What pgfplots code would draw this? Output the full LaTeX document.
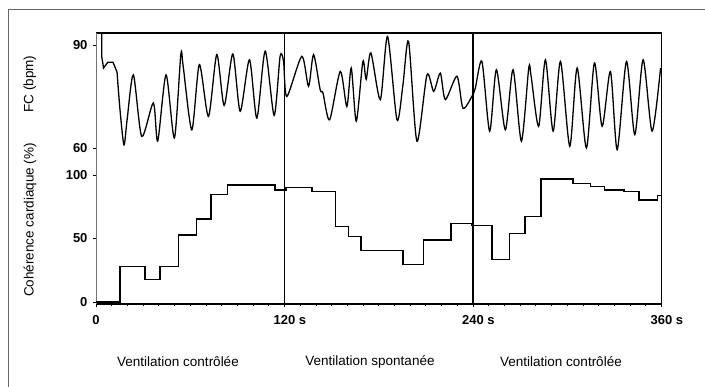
\documentclass[border=0pt]{standalone}
\usepackage{fontspec}
\setmainfont{Liberation Sans}
\usepackage{pgfplots}
\pgfplotsset{compat=1.18}
\begin{document}
\begin{tikzpicture}[x=1pt,y=1pt]
\path[use as bounding box] (0,0) rectangle (705,387);
\draw[line width=1pt, black!60] (8,0) -- (8,377.5) -- (705,377.5);

% ---------- Cohérence cardiaque ----------
\begin{axis}[
  at={(96pt,83.1pt)}, anchor=south west,
  scale only axis, width=565.5pt, height=143.9pt,
  xmin=0, xmax=360, ymin=-1.5, ymax=111.8,
  axis x line*=bottom, axis y line*=left,
  x axis line style={-, line width=1.6pt},
  y axis line style={-, black!55, line width=0.6pt},
  xtick={0,120,240,360},
  xticklabels={0, 120\rlap{ s}, 240\rlap{ s}, 360\rlap{ s}},
  minor x tick num=11,
  ytick={0,50,100},
  tick align=outside,
  major tick length=3pt, minor tick length=2.5pt,
  tick style={black, line width=0.8pt},
  ticklabel style={font=\fontsize{13}{15}\selectfont\bfseries},
  xticklabel style={yshift=-5pt},
  yticklabel style={xshift=-2pt},
  /pgf/number format/assume math mode=true,
  clip=false,
]
\addplot[const plot, black, line width=1.4pt] coordinates {
(0,0) (15.3,0) (15.3,27.8) (31.2,17.9) (40.8,27.8) (52.5,52.8) (64.1,65.4)
(73.1,84.8) (83.7,92.1) (114,88.2) (121,90) (137.4,86.9) (152.3,59.3)
(160.8,51.4) (168.6,40.4) (195.4,29.7) (208.6,48.8) (226,62) (239.4,60)
(252.1,33.6) (263.2,54.1) (273,67.2) (283.3,96.9) (303.7,93.4) (314.8,90.8)
(323.7,88.2) (336,86.9) (345.6,80.3) (357.3,84) (360,84)
};
\draw[line width=1.4pt] (rel axis cs:1,0) -- (rel axis cs:1,1);
\draw[line width=1.4pt] (axis cs:120,-1.5) -- (axis cs:120,111.8);
\draw[line width=1.4pt] (axis cs:240,-1.5) -- (axis cs:240,111.8);
\end{axis}

% ---------- FC ----------
\begin{axis}[
  at={(96pt,227pt)}, anchor=south west,
  scale only axis, width=565.5pt, height=127pt,
  xmin=0, xmax=360, ymin=56.5, ymax=93.5,
  axis x line*=top, axis y line*=left,
  x axis line style={-, line width=1.4pt},
  y axis line style={-, black!55, line width=0.6pt},
  xtick=\empty,
  ytick={60,90},
  tick align=outside,
  major tick length=3pt,
  tick style={black, line width=0.8pt},
  ticklabel style={font=\fontsize{13}{15}\selectfont\bfseries},
  yticklabel style={xshift=-2pt},
  /pgf/number format/assume math mode=true,
  clip=false,
]
\addplot[black, line width=1.3pt] coordinates {
(3.6,93.5) (3.6,86.8) (4.8,83.3) (7.6,85) (10.8,85) (13.4,82.1)
};
\addplot[black, line width=1.3pt, smooth, tension=0.45] coordinates {
(13.4,82.1) (15.3,71)
(17.8,60.9) (19.8,68.2) (23.8,81.3) (29.1,63.4) (36.5,73.1) (39.3,62)
(44.6,81.3) (49.9,62.9) (54.0,87.2) (55.5,83.8) (61.0,65.3) (65.8,84.3)
(71.6,69.2) (76.9,87.2) (81.6,72.4) (87.1,87.4) (91.8,70.7) (97.7,85.7)
(102.4,68.7) (107.7,88.2) (113.4,69.5) (117.2,86.7) (119.4,85.2) (121.5,75)
(131.0,86.7) (135.3,78) (138.5,87.2) (142.7,77) (144.5,76) (148.7,68.2)
(155.5,82.3) (159.7,72.1) (162.5,83.3) (165.7,67.8) (169.9,85.2) (172,80)
(175.0,87.7) (181.0,74.1) (185.6,92.5) (191.6,68.2) (195.4,78.4) (199.0,91.0)
(204.3,62) (210.7,81.3) (215,76.5) (219.2,81.8) (222.4,74.1) (229.8,80.9)
(233.6,71.6) (239.4,75.1) (241.5,77.5) (245.7,85.2) (250.6,64.9) (254.9,82.8)
(260.6,65.3) (265.5,82.8) (270.8,62) (275.5,83.3) (277,80.9) (281.8,66.3)
(286.1,85.7) (291.0,64.9) (295.7,85.2) (301.6,60.5) (306.3,83.3) (312.2,60)
(317.3,84.8) (322.2,66.3) (327.5,82.3) (331.8,59.5) (337.7,85.2) (343.0,63.9)
(348.3,85.7) (354.0,64.9) (359.4,83.3)
};
\draw[line width=1.4pt] (rel axis cs:1,0) -- (rel axis cs:1,1);
\draw[line width=1.4pt] (axis cs:120,56.5) -- (axis cs:120,93.5);
\draw[line width=1.4pt] (axis cs:240,56.5) -- (axis cs:240,93.5);
\end{axis}

\node[rotate=90, font=\fontsize{13.5}{16}\selectfont] at (30,303) {FC (bpm)};
\node[rotate=90, font=\fontsize{13.5}{16}\selectfont] at (30,167) {Cohérence cardiaque (\%)};
\node[font=\fontsize{13.5}{16}\selectfont] at (178,25) {Ventilation contrôlée};
\node[font=\fontsize{13.5}{16}\selectfont] at (370,25) {Ventilation spontanée};
\node[font=\fontsize{13.5}{16}\selectfont] at (561,25) {Ventilation contrôlée};
\end{tikzpicture}
\end{document}
